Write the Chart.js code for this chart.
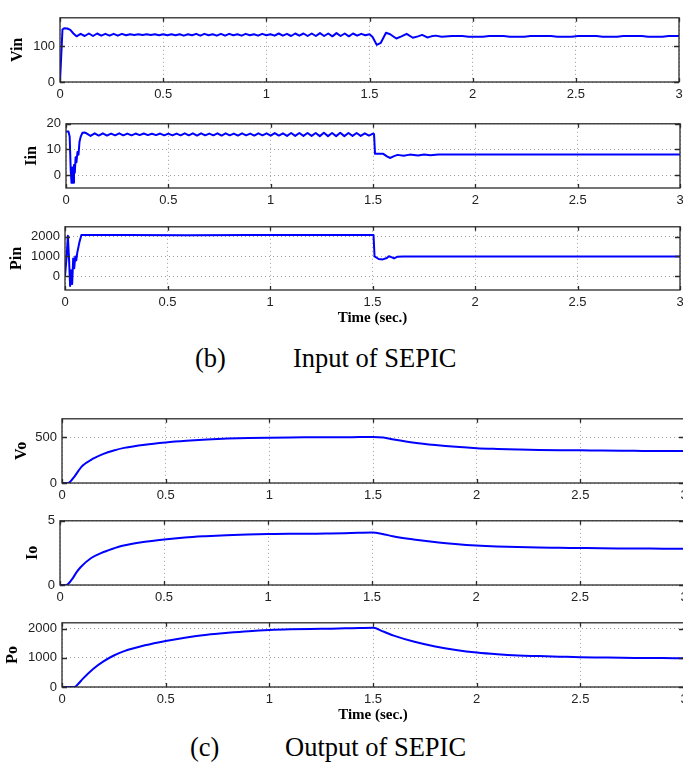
<!DOCTYPE html>
<html>
<head>
<meta charset="utf-8">
<title>SEPIC input / output</title>
<script src="https://cdn.jsdelivr.net/npm/chart.js@4.4.1/dist/chart.umd.min.js"></script>
<style>
    html, body { margin: 0; padding: 0; background: #fff; }
    body { width: 683px; height: 767px; position: relative; overflow: hidden; }
    canvas { position: absolute; left: 0; }
    .cap {
        position: absolute;
        font-family: "Liberation Serif", "Times New Roman", serif;
        font-size: 26.5px;
        line-height: 26px;
        color: #000;
        white-space: nowrap;
    }
</style>
</head>
<body>
<canvas id="vinChart"></canvas>
<canvas id="iinChart"></canvas>
<canvas id="pinChart"></canvas>
<canvas id="voChart"></canvas>
<canvas id="ioChart"></canvas>
<canvas id="poChart"></canvas>

<div class="cap" style="left:195px; top:345px">(b)</div>
<div class="cap" style="left:293px; top:345px">Input of SEPIC</div>
<div class="cap" style="left:190px; top:734px">(c)</div>
<div class="cap" style="left:285px; top:734px">Output of SEPIC</div>

<script>
/* -------------------------------------------------------
 * DATA
 * ----------------------------------------------------- */
const xTicks = [0, 0.5, 1, 1.5, 2, 2.5, 3];

// Vin
const vinT = [0, 0.012, 0.02, 0.035, 0.05, 0.065,
    0.08, 0.10, 0.12, 0.14, 0.16, 0.18, 0.20, 0.22, 0.24, 0.26, 0.28, 0.30, 0.32, 0.34, 0.36, 0.38, 0.40, 0.42,
    0.44, 0.46, 0.48, 0.50, 0.52, 0.54, 0.56, 0.58, 0.60, 0.62, 0.64, 0.66, 0.68, 0.70, 0.72, 0.74, 0.76, 0.78,
    0.80, 0.82, 0.84, 0.86, 0.88, 0.90, 0.92, 0.94, 0.96, 0.98, 1.00, 1.02, 1.04, 1.06, 1.08, 1.10, 1.12, 1.14,
    1.16, 1.18, 1.20, 1.22, 1.24, 1.26, 1.28, 1.30, 1.32, 1.34, 1.36, 1.38, 1.40, 1.42, 1.44, 1.46, 1.48, 1.50,
    1.515, 1.535, 1.555, 1.58, 1.60, 1.63, 1.655, 1.68, 1.71, 1.735, 1.755, 1.78, 1.80, 1.82, 1.85, 1.90, 1.95,
    1.98, 2.05, 2.08, 2.15, 2.18, 2.25, 2.28, 2.38, 2.41, 2.48, 2.51, 2.60, 2.63, 2.70, 2.73, 2.82, 2.85, 2.92,
    2.95, 3.00];
const vinV = [0, 147, 151, 150, 146, 136,
    128, 135, 129, 136, 129, 136, 130, 135, 130, 135, 130, 135, 131, 134, 132, 134, 132, 134,
    132, 134, 131, 134, 131, 134, 131, 134, 130, 134, 131, 135, 130, 135, 131, 134, 130, 135,
    130, 135, 131, 134, 130, 135, 131, 134, 130, 135, 131, 134, 130, 136, 130, 135, 129, 136,
    130, 136, 129, 136, 129, 137, 129, 136, 128, 137, 129, 136, 128, 136, 130, 135, 131, 134,
    126, 104, 110, 138, 134, 122, 128, 135, 124, 128, 132, 125, 128, 130, 127, 129, 129,
    127, 127, 129, 129, 127, 127, 129, 129, 127, 127, 129, 129, 127, 127, 129, 129, 127, 127,
    129, 129];

// Iin
const iinT = [0, 0.012, 0.018, 0.023, 0.027, 0.031, 0.035, 0.039, 0.043, 0.047, 0.051, 0.056, 0.061, 0.066,
    0.072, 0.08, 0.09, 0.10,
    0.12, 0.14, 0.16, 0.18, 0.20, 0.22, 0.24, 0.26, 0.28, 0.30, 0.32, 0.34, 0.36, 0.38, 0.40, 0.42, 0.44, 0.46,
    0.48, 0.50, 0.52, 0.54, 0.56, 0.58, 0.60, 0.62, 0.64, 0.66, 0.68, 0.70, 0.72, 0.74, 0.76, 0.78, 0.80, 0.82,
    0.84, 0.86, 0.88, 0.90, 0.92, 0.94, 0.96, 0.98, 1.00, 1.02, 1.04, 1.06, 1.08, 1.10, 1.12, 1.14, 1.16, 1.18,
    1.20, 1.22, 1.24, 1.26, 1.28, 1.30, 1.32, 1.34, 1.36, 1.38, 1.40, 1.42, 1.44, 1.46, 1.48,
    1.50, 1.505, 1.51, 1.55, 1.57, 1.585, 1.60, 1.62, 1.65, 1.68, 1.72, 1.75, 1.78, 1.82, 3.00];
const iinV = [17, 17, 15, 2, -3, 3, -3, 4, 1, 7, 5, 9, 8, 13,
    15, 16.5, 16.6, 16.3,
    15.3, 16.3, 15.4, 16.3, 15.4, 16.2, 15.5, 16.3, 15.5, 16.2, 15.5, 16.2, 15.6, 16.2, 15.6, 16.1, 15.6, 16.2,
    15.5, 16.2, 15.5, 16.2, 15.5, 16.3, 15.5, 16.3, 15.4, 16.3, 15.5, 16.2, 15.5, 16.3, 15.4, 16.3, 15.5, 16.2,
    15.4, 16.3, 15.5, 16.2, 15.4, 16.3, 15.5, 16.3, 15.4, 16.4, 15.4, 16.3, 15.3, 16.4, 15.3, 16.4, 15.3, 16.4,
    15.3, 16.4, 15.2, 16.5, 15.2, 16.4, 15.2, 16.5, 15.2, 16.4, 15.3, 16.4, 15.3, 16.3, 15.4,
    16.2, 16.0, 8.3, 8.3, 7.2, 6.7, 7.3, 7.9, 7.6, 8.0, 7.7, 8.0, 7.8, 8.0, 8.0];

// Pin
const pinT = [0, 0.008, 0.014, 0.02, 0.025, 0.03, 0.035, 0.04, 0.045, 0.05, 0.055, 0.06, 0.07, 0.08,
    0.3, 0.6, 0.9, 1.2, 1.505, 1.51, 1.53, 1.55, 1.57, 1.58, 1.595, 1.605, 1.62, 1.65, 3.0];
const pinV = [0, 1000, 2050, 800, -500, 300, -400, 900, 400, 1000, 800, 1200, 1700, 2080,
    2085, 2075, 2085, 2080, 2080, 1000, 870, 850, 920, 1010, 950, 900, 980, 1000, 1000];

// Vo, Io, Po share one time base
const outT = [0, 0.03, 0.04, 0.06, 0.08, 0.1, 0.15, 0.2, 0.25, 0.3, 0.4, 0.5, 0.6, 0.7, 0.8, 0.9, 1.0,
    1.1, 1.2, 1.3, 1.4, 1.5, 1.55, 1.6, 1.7, 1.8, 1.9, 2.0, 2.1, 2.2, 2.3, 2.4, 2.5, 2.6, 2.7, 2.8, 2.9, 3.0];
const voV = [0, 0, 15, 70, 135, 190, 265, 318, 355, 383, 418, 442, 460, 474, 484, 490, 494,
    497, 498, 499, 500, 501, 495, 475, 440, 415, 395, 380, 372, 366, 361, 358, 356, 353, 351, 350, 349, 348];
const ioV = [0, 0, 0.1, 0.5, 1.0, 1.4, 2.1, 2.5, 2.8, 3.05, 3.35, 3.55, 3.7, 3.8, 3.88, 3.94, 3.98,
    4.0, 4.0, 4.02, 4.05, 4.08, 3.98, 3.8, 3.55, 3.35, 3.2, 3.08, 3.0, 2.95, 2.92, 2.9, 2.88, 2.86, 2.85, 2.84, 2.83, 2.83];
const poV = [0, 0, 0, 0, 120, 280, 620, 880, 1080, 1230, 1430, 1580, 1700, 1790, 1855, 1910, 1950,
    1975, 1990, 2000, 2015, 2030, 1900, 1760, 1550, 1390, 1270, 1180, 1120, 1080, 1060, 1040, 1020, 1010, 1000, 995, 990, 985];


/* -------------------------------------------------------
 * SHARED STYLE + FRAME PLUGIN (MATLAB-like box, inward ticks)
 * ----------------------------------------------------- */
const SANS = '"Liberation Sans", Arial, sans-serif';
const SERIF = '"Liberation Serif", "Times New Roman", serif';
const PAD_TOP = 6;
const CANVAS_W = 700;

const framePlugin = {
    id: "frame",
    afterDraw(chart) {
        const { ctx, chartArea: a, scales: { x, y } } = chart;
        ctx.save();
        ctx.strokeStyle = "#2a2a2a";
        ctx.lineWidth = 1.3;
        ctx.strokeRect(a.left, a.top, a.right - a.left, a.bottom - a.top);
        ctx.beginPath();
        x.ticks.forEach(t => {
            const px = Math.round(x.getPixelForValue(t.value)) + 0.5;
            ctx.moveTo(px, a.bottom); ctx.lineTo(px, a.bottom - 4);
            ctx.moveTo(px, a.top); ctx.lineTo(px, a.top + 4);
        });
        y.ticks.forEach(t => {
            const py = Math.round(y.getPixelForValue(t.value)) + 0.5;
            ctx.moveTo(a.left, py); ctx.lineTo(a.left + 5, py);
            ctx.moveTo(a.right, py); ctx.lineTo(a.right - 5, py);
        });
        ctx.stroke();
        ctx.restore();
    }
};

function makePanel(id, p) {
    const canvas = document.getElementById(id);
    const bottomH = p.timeTitle ? 44 : 26;
    const h = PAD_TOP + (p.bottom - p.top) + bottomH;
    canvas.width = CANVAS_W;
    canvas.height = h;
    canvas.style.top = (p.top - PAD_TOP) + "px";

    const gridOpts = { color: "#a0a0a0", lineWidth: 1, drawTicks: false };
    const borderOpts = { display: false, dash: [1, 3] };

    new Chart(canvas, {
        type: "line",
        data: {
            datasets: [{
                data: p.xs.map((x, i) => ({ x: x, y: p.ys[i] })),
                borderColor: "#0000ff",
                borderWidth: 2,
                pointRadius: 0,
                tension: 0,
                cubicInterpolationMode: p.smooth ? "monotone" : "default",
                borderJoinStyle: "round"
            }]
        },
        options: {
            responsive: false,
            animation: false,
            devicePixelRatio: 1,
            layout: { padding: { top: PAD_TOP, right: CANVAS_W - p.right, left: 0, bottom: 0 } },
            plugins: { legend: { display: false }, tooltip: { enabled: false } },
            scales: {
                x: {
                    type: "linear",
                    min: 0,
                    max: 3,
                    afterBuildTicks: s => { s.ticks = xTicks.map(v => ({ value: v })); },
                    ticks: {
                        font: { family: SANS, size: 13 },
                        color: "#222",
                        padding: 5,
                        maxRotation: 0,
                        autoSkip: false,
                        callback: v => String(v)
                    },
                    grid: gridOpts,
                    border: borderOpts,
                    title: {
                        display: !!p.timeTitle,
                        text: "Time (sec.)",
                        color: "#000",
                        font: { family: SERIF, size: 15, weight: "bold" },
                        padding: { top: 0, bottom: 7 }
                    },
                    afterFit: s => { s.height = bottomH; s.paddingLeft = 0; s.paddingRight = 0; }
                },
                y: {
                    min: p.yMin,
                    max: p.yMax,
                    afterBuildTicks: s => { s.ticks = p.yTicks.map(v => ({ value: v })); },
                    ticks: {
                        font: { family: SANS, size: 13 },
                        color: "#222",
                        padding: 5,
                        callback: v => String(v)
                    },
                    grid: gridOpts,
                    border: borderOpts,
                    title: {
                        display: true,
                        text: p.label,
                        color: "#000",
                        font: { family: SERIF, size: 16, weight: "bold" },
                        padding: { top: p.titleX - 9.6, bottom: 0 }
                    },
                    afterFit: s => { s.width = p.left; }
                }
            }
        },
        plugins: [framePlugin]
    });
}


/* -------------------------------------------------------
 * PANELS
 * ----------------------------------------------------- */
makePanel("vinChart", { label: "Vin", xs: vinT, ys: vinV, left: 60, right: 679, top: 11, bottom: 82,
    yMin: 0, yMax: 180, yTicks: [0, 100], titleX: 18 });
makePanel("iinChart", { label: "Iin", xs: iinT, ys: iinV, left: 66, right: 680, top: 117, bottom: 188,
    yMin: -5, yMax: 20, yTicks: [0, 10, 20], titleX: 32 });
makePanel("pinChart", { label: "Pin", xs: pinT, ys: pinV, left: 65, right: 680, top: 220, bottom: 290,
    yMin: -700, yMax: 2500, yTicks: [0, 1000, 2000], titleX: 17, timeTitle: true });
makePanel("voChart", { label: "Vo", xs: outT, ys: voV, left: 62, right: 684, top: 412, bottom: 483,
    yMin: 0, yMax: 700, yTicks: [0, 500], titleX: 22, smooth: true });
makePanel("ioChart", { label: "Io", xs: outT, ys: ioV, left: 60, right: 684, top: 514, bottom: 585,
    yMin: 0, yMax: 5, yTicks: [0, 5], titleX: 33, smooth: true });
makePanel("poChart", { label: "Po", xs: outT, ys: poV, left: 62, right: 684, top: 616, bottom: 687,
    yMin: 0, yMax: 2200, yTicks: [0, 1000, 2000], titleX: 13, smooth: true, timeTitle: true });
</script>
</body>
</html>
